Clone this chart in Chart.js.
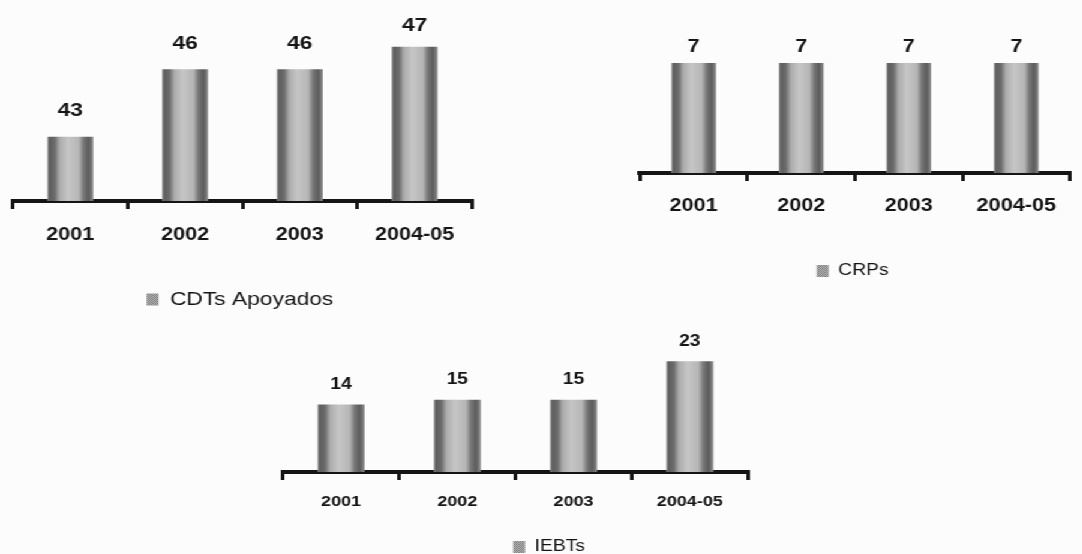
<!DOCTYPE html>
<html>
<head>
<meta charset="utf-8">
<script src="https://cdn.jsdelivr.net/npm/chart.js@4/dist/chart.umd.min.js"></script>
<style>
  html, body { margin: 0; padding: 0; width: 1082px; height: 554px; overflow: hidden; background: #fcfcfc; }
  /* the sheet is laid out narrow and widened horizontally as a whole */
  #sheet { position: absolute; left: 0; top: 0; width: 902px; height: 554px; transform: scaleX(1.2); transform-origin: 0 0; }
  .panel { position: absolute; }
</style>
</head>
<body>
<div id="sheet">
  <div class="panel" style="left:0px;top:0px;width:400px;height:319px"><canvas id="cdts"></canvas></div>
  <div class="panel" style="left:527px;top:0px;width:367px;height:289px"><canvas id="crps"></canvas></div>
  <div class="panel" style="left:220px;top:300px;width:475px;height:265px"><canvas id="iebts"></canvas></div>
</div>
<script>
// ---- data ----
const years = ['2001', '2002', '2003', '2004-05'];
const cdtsApoyados = [43, 46, 46, 47];
const crpsValues = [7, 7, 7, 7];
const iebtsValues = [14, 15, 15, 23];
const seriesNames = ['CDTs Apoyados', 'CRPs', 'IEBTs'];

// ---- styling helpers ----
const FONT = '"Liberation Sans", Arial, Helvetica, sans-serif';
const INK = '#151515';

// cylinder-like horizontal shading of each bar
const SHADE = [
  [0, '#8e8e8e'], [0.05, '#5e5e5e'], [0.16, '#6c6c6c'], [0.27, '#acacac'],
  [0.45, '#c6c6c6'], [0.68, '#b6b6b6'], [0.79, '#767676'], [0.9, '#5c5c5c'], [1, '#8c8c8c']
];

function barFill(c) {
  const chart = c.chart;
  const xs = chart.scales && chart.scales.x;
  if (c.type !== 'data' || !xs) return '#a6a6a6';
  const ds = chart.data.datasets[c.datasetIndex];
  const cx = xs.getPixelForValue(c.dataIndex);
  const w = xs.width / chart.data.labels.length * ds.categoryPercentage * ds.barPercentage;
  if (!isFinite(cx) || !isFinite(w) || w <= 0) return '#a6a6a6';
  const g = chart.ctx.createLinearGradient(cx - w / 2, 0, cx + w / 2, 0);
  SHADE.forEach(([o, col]) => g.addColorStop(o, col));
  return g;
}

// small checkered swatch for the legend box
function swatch(ctx) {
  const t = document.createElement('canvas');
  t.width = 2; t.height = 2;
  const tc = t.getContext('2d');
  tc.fillStyle = '#b8b8b8'; tc.fillRect(0, 0, 2, 2);
  tc.fillStyle = '#7a7a7a'; tc.fillRect(0, 0, 1, 1); tc.fillRect(1, 1, 1, 1);
  return ctx.createPattern(t, 'repeat');
}

// value printed above every bar
const valueLabels = {
  id: 'valueLabels',
  afterDatasetsDraw(chart, args, opts) {
    const { ctx } = chart;
    const meta = chart.getDatasetMeta(0);
    const values = chart.data.datasets[0].data;
    ctx.save();
    ctx.font = 'bold ' + opts.size + 'px ' + FONT;
    ctx.fillStyle = INK;
    ctx.textAlign = 'center';
    ctx.textBaseline = 'middle';
    meta.data.forEach((bar, i) => {
      const y = Math.max(bar.y - opts.offset, opts.minY);
      ctx.fillText(String(values[i]), bar.x, y);
    });
    ctx.restore();
  }
};

function drawPanel(id, p) {
  return new Chart(document.getElementById(id), {
    type: 'bar',
    data: {
      labels: years,
      datasets: [{
        label: p.name,
        data: p.values,
        backgroundColor: barFill,
        borderWidth: 0,
        categoryPercentage: 0.8,
        barPercentage: p.barPct
      }]
    },
    plugins: [valueLabels],
    options: {
      responsive: true,
      maintainAspectRatio: false,
      animation: false,
      events: [],
      layout: { padding: { top: 20, left: 0, right: 0, bottom: 0 } },
      scales: {
        x: {
          offset: true,
          grid: { offset: true, drawOnChartArea: false, drawTicks: true, tickLength: 8, lineWidth: 3, color: INK },
          border: { display: true, width: 4, color: INK },
          ticks: { padding: p.tickPad, color: INK, maxRotation: 0, autoSkip: false,
                   font: { family: FONT, size: p.tickSize, weight: 'bold' } },
          afterFit: s => { s.height = p.axisHeight; }
        },
        y: {
          min: p.min, max: p.max,
          ticks: { display: false }, grid: { display: false }, border: { display: false },
          afterFit: s => { s.width = p.left; }
        },
        yR: {
          position: 'right',
          ticks: { display: false }, grid: { display: false }, border: { display: false },
          afterFit: s => { s.width = p.right; }
        }
      },
      plugins: {
        tooltip: { enabled: false },
        legend: {
          position: 'bottom',
          labels: {
            color: INK,
            boxWidth: 10,
            boxHeight: 12,
            padding: 10,
            font: { family: FONT, size: p.legendSize },
            generateLabels: chart => Chart.defaults.plugins.legend.labels.generateLabels(chart)
              .map(item => Object.assign(item, { fillStyle: swatch(chart.ctx), lineWidth: 0 }))
          }
        },
        valueLabels: { size: p.labelSize, offset: p.labelOffset, minY: p.labelMinY }
      }
    }
  });
}

drawPanel('cdts', {
  name: seriesNames[0], values: cdtsApoyados, barPct: 0.5,
  min: 40.15, max: 48.19,
  left: 10.8, right: 6.7, axisHeight: 79, tickPad: 15, tickSize: 18,
  legendSize: 19, labelSize: 19, labelOffset: 26, labelMinY: 26
});

drawPanel('crps', {
  name: seriesNames[1], values: crpsValues, barPct: 0.52,
  min: 0, max: 9.74,
  left: 6.3, right: 0.7, axisHeight: 80, tickPad: 14, tickSize: 18,
  legendSize: 16, labelSize: 18, labelOffset: 16, labelMinY: 0
});

drawPanel('iebts', {
  name: seriesNames[2], values: iebtsValues, barPct: 0.505,
  min: 0, max: 31.54,
  left: 15.8, right: 71.7, axisHeight: 57, tickPad: 13, tickSize: 15,
  legendSize: 16, labelSize: 16, labelOffset: 20, labelMinY: 0
});
</script>
</body>
</html>
